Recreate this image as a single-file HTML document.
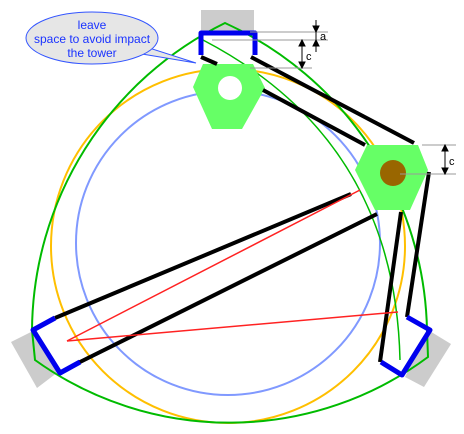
<!DOCTYPE html>
<html><head><meta charset="utf-8"><style>
html,body{margin:0;padding:0;background:#fff;width:464px;height:434px;overflow:hidden}
svg{display:block;font-family:"Liberation Sans",sans-serif}
</style></head><body>
<svg width="464" height="434" viewBox="0 0 464 434">
<g fill="#cccccc">
<rect x="201" y="10" width="53" height="22"/>
<polygon points="11,342 33,331 58,372 37,388"/>
<polygon points="428,330 451,344 424,387 405,377"/>
</g>
<circle cx="228" cy="246" r="177" fill="none" stroke="#ffbf00" stroke-width="2"/>
<circle cx="228" cy="243" r="152" fill="none" stroke="#8099ff" stroke-width="2"/>
<path d="M225,23 A345,345 0 0 0 32,330 L35,360 A333,333 0 0 0 428,357 L427,330 A345,345 0 0 0 225,23 Z" fill="none" stroke="#00bb00" stroke-width="2"/>
<path d="M203,40 Q395,140 400,360" fill="none" stroke="#00bb00" stroke-width="1.5"/>
<polygon points="203,64 253,64 265,88 242,129 212,129 193,87" fill="#66ff66"/>
<circle cx="230" cy="88" r="12" fill="#fff"/>
<polygon points="367,145 418,145 428,170 410,210 375,210 355,170" fill="#66ff66"/>
<circle cx="393" cy="173" r="13" fill="#996600"/>
<g stroke="#000" stroke-width="4" fill="none">
<line x1="201" y1="57" x2="217" y2="64"/>
<line x1="251" y1="57" x2="414" y2="143"/>
<line x1="263" y1="90" x2="365" y2="145"/>
<line x1="55" y1="318" x2="351" y2="194"/>
<line x1="78" y1="363" x2="377" y2="214"/>
<line x1="380" y1="362" x2="401" y2="212"/>
<line x1="407" y1="317" x2="429" y2="172"/>
</g>
<g stroke="#ff2222" stroke-width="1.5">
<line x1="67" y1="341" x2="360" y2="190"/>
<line x1="67" y1="341" x2="398" y2="312"/>
</g>
<g stroke="#0000ee" stroke-width="5" fill="none" stroke-linejoin="round">
<polyline points="201,55 201,33 255,33 255,55"/>
<polyline points="55,318 33,330 60,373 80,362"/>
<polyline points="407,317 430,330 402,375 381,362"/>
</g>
<g stroke="#999" stroke-width="1">
<line x1="250" y1="32" x2="328" y2="32"/>
<line x1="212" y1="40" x2="328" y2="40"/>
<line x1="250" y1="68" x2="312" y2="68"/>
<line x1="422" y1="145" x2="456" y2="145"/>
<line x1="400" y1="174" x2="456" y2="174"/>
</g>
<g stroke="#000" fill="#000" stroke-width="1">
<line x1="316" y1="20" x2="316" y2="52"/>
<polygon points="313,26 319,26 316,32"/><polygon points="313,46 319,46 316,40"/>
<line x1="302" y1="40" x2="302" y2="68"/>
<polygon points="299,46 305,46 302,40"/><polygon points="299,62 305,62 302,68"/>
<line x1="445" y1="145" x2="445" y2="174"/>
<polygon points="442,151 448,151 445,145"/><polygon points="442,168 448,168 445,174"/>
</g>
<text x="320" y="40" font-size="11">a</text>
<text x="306" y="60" font-size="11">c</text>
<text x="449" y="165" font-size="11">c</text>
<g>
<path d="M130,52 L196,63 L140,45 Z" fill="#e6e6e6" stroke="#3355ff" stroke-width="1"/>
<ellipse cx="92" cy="38" rx="66" ry="26" fill="#e6e6e6" stroke="#3355ff" stroke-width="1"/>
<path d="M128,53 L142,47" stroke="#e6e6e6" stroke-width="3"/>
<text fill="#1a33ff" font-size="12" text-anchor="middle">
<tspan x="92" y="29">leave</tspan><tspan x="92" y="43">space to avoid impact</tspan><tspan x="92" y="57">the tower</tspan></text>
</g>
</svg>
</body></html>
